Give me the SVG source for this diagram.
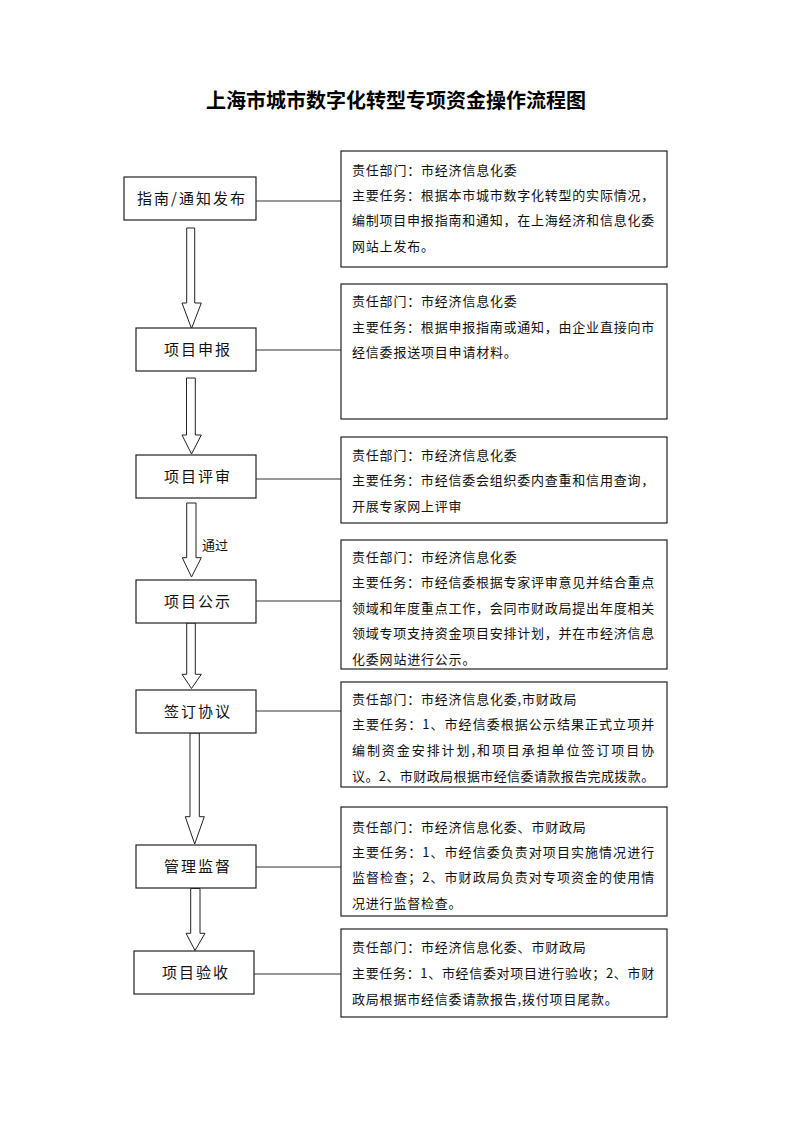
<svg xmlns="http://www.w3.org/2000/svg" width="793" height="1122" viewBox="0 0 793 1122">
<style>
.title{font-family:"Noto Sans CJK SC","Noto Sans",sans-serif;font-size:20px;font-weight:bold;fill:#000;}
.node rect{fill:#fff;stroke:#222;stroke-width:1.2;}
.node text{font-family:"Noto Sans CJK SC","Noto Sans",sans-serif;font-size:15px;fill:#111;letter-spacing:2px;}
.info rect{fill:#fff;stroke:#222;stroke-width:1.2;}
.info text{font-family:"Noto Sans CJK SC","Noto Sans",sans-serif;font-size:13px;fill:#111;letter-spacing:0.8px;}
.conn line{stroke:#333;stroke-width:1.1;}
.conn polygon{fill:#fff;stroke:#222;stroke-width:1;}
.lbl{font-family:"Noto Sans CJK SC","Noto Sans",sans-serif;font-size:13px;fill:#111;}
</style>
<rect width="793" height="1122" fill="#fff"/>
<text class="title" x="396" y="108" text-anchor="middle">上海市城市数字化转型专项资金操作流程图</text>

<g id="connectors" class="conn">
<line x1="256" y1="201" x2="341" y2="201"/>
<line x1="256" y1="350" x2="341" y2="350"/>
<line x1="256" y1="479" x2="341" y2="479"/>
<line x1="256" y1="601" x2="341" y2="601"/>
<line x1="256" y1="711" x2="341" y2="711"/>
<line x1="256" y1="867" x2="341" y2="867"/>
<line x1="254" y1="974" x2="341" y2="974"/>
<polygon points="186.7,228 194.7,228 194.7,303 201.3,303 191.5,328.5 182,303 186.7,303"/>
<polygon points="186.5,378 195.3,378 195.3,435 201.3,435 191.5,454 182,435 186.5,435"/>
<polygon points="186.7,503 196,503 196,557.7 201.3,557.7 191.5,577 182.3,557.7 186.7,557.7"/>
<polygon points="186.7,623 195.3,623 195.3,674.3 201.3,674.3 191.5,688.5 182,674.3 186.7,674.3"/>
<polygon points="190,733 199.3,733 199.3,816.7 204.3,816.7 194.7,844 185.3,816.7 190,816.7"/>
<polygon points="190.7,888.5 200,888.5 200,933.3 205,933.3 195,950.5 186,933.3 190.7,933.3"/>
<text class="lbl" x="202" y="550">通过</text>
</g>

<g id="node1" class="node">
<rect x="124" y="177" width="132" height="43"/>
<text x="137" y="204">指南/通知发布</text>
</g>
<g id="node2" class="node">
<rect x="136" y="328" width="120" height="43"/>
<text x="164" y="355">项目申报</text>
</g>
<g id="node3" class="node">
<rect x="136" y="455" width="120" height="43"/>
<text x="164" y="482">项目评审</text>
</g>
<g id="node4" class="node">
<rect x="136" y="580" width="120" height="43"/>
<text x="164" y="607">项目公示</text>
</g>
<g id="node5" class="node">
<rect x="136" y="690" width="120" height="43"/>
<text x="164" y="717">签订协议</text>
</g>
<g id="node6" class="node">
<rect x="136" y="845" width="120" height="43"/>
<text x="164" y="872">管理监督</text>
</g>
<g id="node7" class="node">
<rect x="134" y="951" width="120" height="43"/>
<text x="162" y="978">项目验收</text>
</g>

<g id="info1" class="info">
<rect x="341" y="151" width="326" height="116"/>
<text x="352" y="175">责任部门：市经济信息化委</text>
<text x="352" y="200" textLength="303" lengthAdjust="spacing">主要任务：根据本市城市数字化转型的实际情况，</text>
<text x="352" y="225" textLength="303" lengthAdjust="spacing">编制项目申报指南和通知，在上海经济和信息化委</text>
<text x="352" y="251">网站上发布。</text>
</g>
<g id="info2" class="info">
<rect x="341" y="284" width="326" height="135"/>
<text x="352" y="306">责任部门：市经济信息化委</text>
<text x="352" y="332" textLength="303" lengthAdjust="spacing">主要任务：根据申报指南或通知，由企业直接向市</text>
<text x="352" y="357">经信委报送项目申请材料。</text>
</g>
<g id="info3" class="info">
<rect x="341" y="437" width="326" height="86"/>
<text x="352" y="460">责任部门：市经济信息化委</text>
<text x="352" y="485" textLength="303" lengthAdjust="spacing">主要任务：市经信委会组织委内查重和信用查询，</text>
<text x="352" y="511">开展专家网上评审</text>
</g>
<g id="info4" class="info">
<rect x="341" y="540" width="326" height="129"/>
<text x="352" y="562">责任部门：市经济信息化委</text>
<text x="352" y="587" textLength="303" lengthAdjust="spacing">主要任务：市经信委根据专家评审意见并结合重点</text>
<text x="352" y="613" textLength="303" lengthAdjust="spacing">领域和年度重点工作，会同市财政局提出年度相关</text>
<text x="352" y="638" textLength="303" lengthAdjust="spacing">领域专项支持资金项目安排计划，并在市经济信息</text>
<text x="352" y="664">化委网站进行公示。</text>
</g>
<g id="info5" class="info">
<rect x="341" y="682" width="326" height="105"/>
<text x="352" y="704">责任部门：市经济信息化委,市财政局</text>
<text x="352" y="729" textLength="303" lengthAdjust="spacing">主要任务：1、市经信委根据公示结果正式立项并</text>
<text x="352" y="755" textLength="303" lengthAdjust="spacing">编制资金安排计划,和项目承担单位签订项目协</text>
<text x="352" y="781" textLength="303" lengthAdjust="spacing">议。2、市财政局根据市经信委请款报告完成拨款。</text>
</g>
<g id="info6" class="info">
<rect x="341" y="807" width="326" height="109"/>
<text x="352" y="832">责任部门：市经济信息化委、市财政局</text>
<text x="352" y="857" textLength="303" lengthAdjust="spacing">主要任务：1、市经信委负责对项目实施情况进行</text>
<text x="352" y="882" textLength="303" lengthAdjust="spacing">监督检查；2、市财政局负责对专项资金的使用情</text>
<text x="352" y="908">况进行监督检查。</text>
</g>
<g id="info7" class="info">
<rect x="341" y="929" width="326" height="88"/>
<text x="352" y="952">责任部门：市经济信息化委、市财政局</text>
<text x="352" y="978" textLength="303" lengthAdjust="spacing">主要任务：1、市经信委对项目进行验收；2、市财</text>
<text x="352" y="1004">政局根据市经信委请款报告,拨付项目尾款。</text>
</g>
</svg>
